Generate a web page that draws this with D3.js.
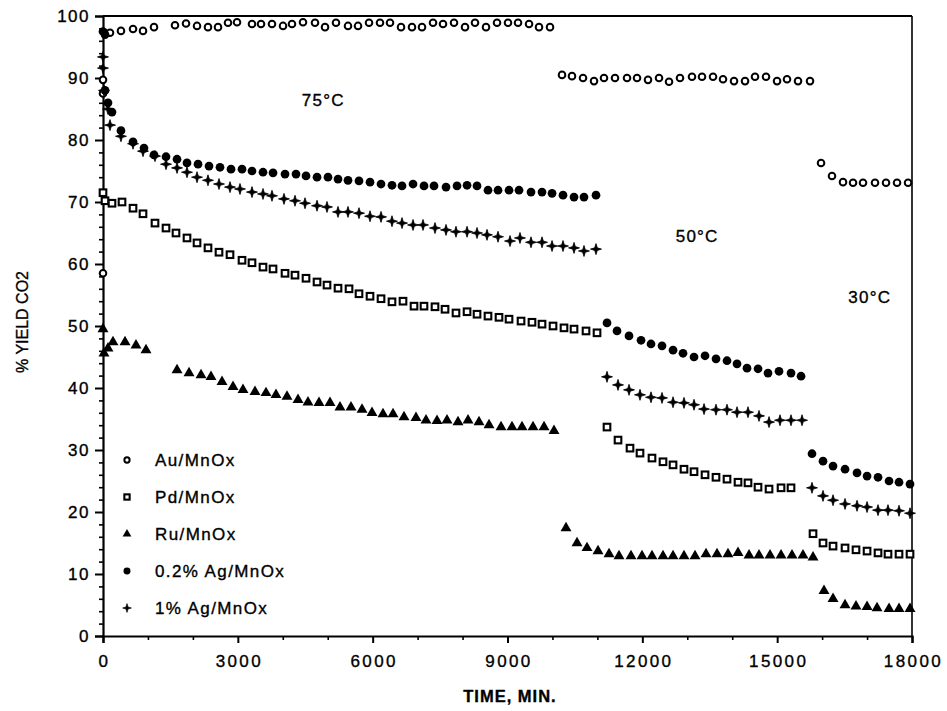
<!DOCTYPE html>
<html>
<head>
<meta charset="utf-8">
<script src="https://cdn.jsdelivr.net/npm/d3@7"></script>
<style>
  body { margin: 0; background: #fff; }
  text { font-family: "Liberation Sans", Arial, Helvetica, sans-serif; fill: #000; stroke: #000; stroke-width: 0.35; }
</style>
</head>
<body>
<svg id="chart" width="947" height="711"></svg>
<script>
// ---- data: [time (min), % yield CO2] ----
const xTickValues = [0, 3000, 6000, 9000, 12000, 15000, 18000];
const yTickValues = [0, 10, 20, 30, 40, 50, 60, 70, 80, 90, 100];

const auMnOx = [
  [0,58.5],[0,89.7],[0,87.5],[45,97.2],[156,97.3],[400,97.6],[668,97.9],[890,97.6],[1135,98.2],
  [1602,98.5],[1847,98.8],[2092,98.4],[2336,98.2],[2559,98.2],[2781,98.9],[2982,99.0],[3315,98.7],
  [3516,98.7],[3760,98.7],[4005,98.4],[4205,98.7],[4450,99.0],[4717,98.9],[4940,98.2],[5184,98.9],
  [5451,98.4],[5674,98.4],[5919,98.9],[6163,98.9],[6386,98.9],[6631,98.2],[6875,98.2],[7098,98.2],
  [7343,98.9],[7565,98.7],[7810,98.9],[8055,98.2],[8277,98.9],[8522,98.2],[8767,98.9],[9011,98.9],
  [9234,98.9],[9479,98.7],[9701,98.2],[9946,98.2],
  [10213,90.5],[10435,90.3],[10680,90.0],[10925,89.5],[11147,90.0],[11392,90.0],[11659,90.0],
  [11882,90.0],[12126,89.7],[12371,90.0],[12594,89.4],[12838,90.0],[13105,90.2],[13328,90.2],
  [13573,90.2],[13795,89.8],[14040,89.5],[14285,89.5],[14507,90.2],[14752,90.2],[14997,89.5],
  [15219,89.8],[15464,89.5],[15731,89.5],
  [15976,76.3],[16220,74.2],[16465,73.2],[16688,73.1],[16910,73.1],[17177,73.1],[17422,73.1],
  [17667,73.1],[17912,73.1]
];

const pdMnOx = [
  [0,71.5],[45,70.2],[200,69.8],[423,70.0],[668,69.0],[890,68.1],[1157,66.6],[1402,65.8],[1624,65.0],
  [1869,64.2],[2092,63.4],[2336,62.6],[2581,61.9],[2826,61.5],[3093,60.6],[3315,60.2],[3560,59.5],
  [3783,59.2],[4050,58.5],[4272,58.2],[4517,57.7],[4762,57.1],[4984,56.6],[5229,56.1],[5474,56.0],
  [5696,55.2],[5941,54.8],[6186,54.4],[6430,53.9],[6675,54.0],[6920,53.2],[7142,53.2],[7387,53.1],
  [7610,52.7],[7854,52.1],[8100,52.3],[8322,51.9],[8566,51.6],[8811,51.4],[9034,51.1],[9301,50.8],
  [9545,50.6],[9768,50.3],[10013,50.0],[10257,49.7],[10480,49.5],[10747,49.2],[10992,48.9],
  [11214,33.7],[11459,31.6],[11726,30.3],[11948,29.5],[12215,28.7],[12460,28.1],[12683,27.6],
  [12927,26.9],[13150,26.5],[13395,26.0],[13639,25.6],[13884,25.3],[14129,24.8],[14351,24.7],
  [14574,24.0],[14819,23.7],[15086,23.9],[15308,23.9],
  [15798,16.5],[16020,15.0],[16243,14.5],[16510,14.2],[16754,13.9],[17000,13.7],[17244,13.4],
  [17466,13.2],[17711,13.2],[17956,13.2]
];

const ruMnOx = [
  [0,49.5],[22,45.6],[111,46.4],[222,47.4],[490,47.4],[734,46.9],[957,46.1],
  [1647,42.9],[1914,42.4],[2181,42.1],[2403,41.8],[2648,41.0],[2893,40.2],[3115,39.7],[3382,39.4],
  [3627,39.2],[3849,38.9],[4094,38.6],[4339,38.1],[4561,37.7],[4806,37.6],[5051,37.6],[5273,36.9],
  [5518,36.9],[5763,36.5],[5985,36.0],[6230,35.8],[6453,35.8],[6697,35.3],[6964,35.2],[7187,34.8],
  [7432,34.7],[7654,34.8],[7899,34.5],[8122,34.8],[8366,34.5],[8589,34.0],[8856,33.7],[9100,33.7],
  [9323,33.7],[9568,33.7],[9813,33.7],[10035,33.1],
  [10302,17.4],[10547,15.0],[10769,14.2],[11014,13.7],[11259,13.2],[11481,12.9],[11748,12.9],
  [11993,12.9],[12215,12.9],[12460,12.9],[12683,12.9],[12927,12.9],[13172,12.9],[13417,13.2],
  [13662,13.2],[13906,13.2],[14129,13.4],[14374,13.0],[14596,13.0],[14841,13.0],[15086,13.0],
  [15330,13.0],[15575,13.0],[15798,12.7],
  [16042,7.3],[16243,6.0],[16510,5.0],[16754,4.8],[17000,4.7],[17222,4.5],[17489,4.4],[17711,4.4],
  [17956,4.4]
];

const ag02MnOx = [
  [0,97.5],[45,97.0],[45,88.0],[111,86.0],[200,84.5],[400,81.5],[668,79.7],[912,78.7],[1135,77.6],
  [1402,77.3],[1647,76.9],[1869,76.3],[2114,76.1],[2359,75.8],[2603,75.6],[2848,75.3],[3093,75.3],
  [3315,75.0],[3560,74.8],[3783,74.7],[4050,74.5],[4294,74.5],[4517,74.2],[4762,74.0],[5006,74.0],
  [5229,73.7],[5451,73.5],[5696,73.4],[5941,73.2],[6186,72.9],[6430,72.7],[6653,72.6],[6898,72.9],
  [7142,72.6],[7365,72.6],[7632,72.4],[7877,72.6],[8100,72.7],[8322,72.6],[8566,71.9],[8789,71.9],
  [9034,71.9],[9256,71.9],[9523,71.6],[9768,71.6],[9991,71.4],[10235,71.1],[10480,70.8],[10702,70.8],
  [10969,71.1],
  [11214,50.5],[11437,49.2],[11704,48.4],[11971,47.7],[12193,47.1],[12438,46.8],[12683,46.1],
  [12905,45.6],[13150,45.0],[13395,45.2],[13639,44.7],[13884,44.4],[14107,43.9],[14329,43.2],
  [14574,43.1],[14796,42.4],[15041,42.7],[15308,42.4],[15531,41.9],
  [15775,29.4],[16020,28.2],[16243,27.4],[16510,26.9],[16777,26.3],[17000,25.8],[17244,25.6],
  [17489,25.0],[17711,24.8],[17956,24.5]
];

const ag1MnOx = [
  [0,93.4],[0,91.6],[22,88.0],[111,85.0],[156,82.4],[400,80.6],[668,79.4],[890,78.2],[1157,77.4],
  [1402,76.1],[1647,75.5],[1869,74.8],[2092,74.0],[2336,73.5],[2581,72.9],[2826,72.4],[3048,72.1],
  [3315,71.6],[3560,71.3],[3760,71.0],[4027,70.5],[4272,70.2],[4495,69.8],[4762,69.4],[4984,69.2],
  [5229,68.4],[5451,68.4],[5696,68.2],[5941,67.7],[6186,67.6],[6430,66.9],[6653,66.6],[6898,66.3],
  [7120,66.3],[7387,65.8],[7632,65.5],[7854,65.2],[8100,65.2],[8322,65.0],[8544,64.7],[8789,64.4],
  [9056,63.7],[9278,64.2],[9523,63.5],[9768,63.5],[9991,62.9],[10235,62.9],[10480,62.6],[10702,62.1],
  [10969,62.4],
  [11214,41.8],[11459,40.5],[11704,39.7],[11948,38.9],[12193,38.5],[12438,38.4],[12683,37.7],
  [12927,37.6],[13150,37.3],[13373,36.6],[13639,36.5],[13884,36.5],[14107,36.1],[14351,36.1],
  [14596,35.5],[14819,34.5],[15063,34.8],[15308,34.8],[15553,34.8],
  [15775,23.9],[16020,22.6],[16243,21.9],[16510,21.3],[16777,21.0],[17000,20.8],[17244,20.3],
  [17466,20.3],[17711,20.2],[17956,19.8]
];

const seriesNames = ["Au/MnOx", "Pd/MnOx", "Ru/MnOx", "0.2% Ag/MnOx", "1% Ag/MnOx"];
const seriesData = [auMnOx, pdMnOx, ruMnOx, ag02MnOx, ag1MnOx];

// temperature annotations (text, time, yield)
const tempNotes = [["75°C", 4900, 85.5], ["50°C", 13220, 63.5], ["30°C", 17060, 53.7]];

// ---- drawing ----
const svg = d3.select("#chart");
const x = d3.scaleLinear().domain([0, 18000]).range([103, 912]);
const y = d3.scaleLinear().domain([0, 100]).range([636, 16]);

// marker shapes
const star = "M0,-5.5L1.3,-1.3L5.5,0L1.3,1.3L0,5.5L-1.3,1.3L-5.5,0L-1.3,-1.3Z";
function drawMarker(g, kind, scale) {
  const s = scale || 1;
  if (kind === 0) {
    g.append("circle").attr("r", 3.3 * s).attr("fill", "#fff").attr("stroke", "#000").attr("stroke-width", 2);
  } else if (kind === 1) {
    const h = 3.3 * s;
    g.append("rect").attr("x", -h).attr("y", -h).attr("width", 2 * h).attr("height", 2 * h)
      .attr("fill", "#fff").attr("stroke", "#000").attr("stroke-width", 2.1);
  } else if (kind === 2) {
    g.append("path").attr("d", d3.symbol(d3.symbolTriangle, 52 * s * s)()).attr("fill", "#000");
  } else if (kind === 3) {
    g.append("path").attr("d", d3.symbol(d3.symbolCircle, 60 * s * s)()).attr("fill", "#000");
  } else {
    g.append("path").attr("d", star).attr("transform", `scale(${s})`).attr("fill", "#000")
      .attr("stroke", "#000").attr("stroke-width", 0.8);
  }
}

// frame
const frame = svg.append("g").attr("stroke", "#000").attr("fill", "none");
frame.append("line").attr("x1", x(0)).attr("x2", x(18000)).attr("y1", y(100)).attr("y2", y(100)).attr("stroke-width", 2.2);
frame.append("line").attr("x1", x(18000)).attr("x2", x(18000)).attr("y1", y(100)).attr("y2", y(0)).attr("stroke-width", 1.6);

// x axis
const xAxis = d3.axisBottom(x).tickValues(xTickValues).tickSize(7).tickPadding(12).tickFormat(d3.format("d"));
const gx = svg.append("g").attr("transform", `translate(0,${y(0)})`).call(xAxis);
gx.selectAll("text").attr("font-size", 17).attr("letter-spacing", 2.4).attr("dx", 1);
gx.selectAll("line").attr("stroke-width", 2);
gx.select(".domain").attr("stroke-width", 2.2);
const xMinor = d3.axisBottom(x).tickValues(d3.range(1000, 18000, 1000).filter(v => v % 3000 !== 0))
  .tickSize(4).tickFormat("");
svg.append("g").attr("transform", `translate(0,${y(0)})`).call(xMinor)
  .call(g => g.select(".domain").remove()).selectAll("line").attr("stroke-width", 1.6);

// y axis
const yAxis = d3.axisLeft(y).tickValues(yTickValues).tickSize(8).tickPadding(5);
const gy = svg.append("g").attr("transform", `translate(${x(0)},0)`).call(yAxis);
gy.selectAll("text").attr("font-size", 17).attr("letter-spacing", 1.5);
gy.selectAll("line").attr("stroke-width", 2);
gy.select(".domain").attr("stroke-width", 2.2);
const yMinor = d3.axisLeft(y).tickValues(d3.range(2, 100, 2).filter(v => v % 10 !== 0)).tickSize(4).tickFormat("");
svg.append("g").attr("transform", `translate(${x(0)},0)`).call(yMinor)
  .call(g => g.select(".domain").remove()).selectAll("line").attr("stroke-width", 1.6);

svg.selectAll(".domain").attr("stroke", "#000");
svg.selectAll(".tick line").attr("stroke", "#000");
svg.selectAll(".tick text").attr("fill", "#000").attr("font-family", "Liberation Sans, Arial, sans-serif");

// axis titles
svg.append("text").attr("x", 510).attr("y", 702).attr("text-anchor", "middle")
  .attr("font-size", 16.5).attr("font-weight", "bold").attr("letter-spacing", 1).text("TIME, MIN.");
svg.append("text").attr("transform", "translate(28,322) rotate(-90)").attr("text-anchor", "middle")
  .attr("font-size", 16).attr("letter-spacing", 0).text("% YIELD CO2");

// data markers
seriesData.forEach((data, k) => {
  const g = svg.append("g").attr("class", "series-" + k);
  data.forEach(d => {
    const m = g.append("g").attr("transform", `translate(${x(d[0])},${y(d[1])})`);
    drawMarker(m, k, 1);
  });
});

// temperature annotations
svg.append("g").selectAll("text").data(tempNotes).join("text")
  .attr("x", d => x(d[1])).attr("y", d => y(d[2])).attr("text-anchor", "middle")
  .attr("font-size", 17).attr("letter-spacing", 1.2).text(d => d[0]);

// legend
const legend = svg.append("g");
seriesNames.forEach((name, k) => {
  const row = legend.append("g").attr("transform", `translate(127,${460 + k * 37})`);
  drawMarker(row.append("g"), k, 0.8);
  row.append("text").attr("x", 28).attr("y", 6).attr("font-size", 17).attr("letter-spacing", 1.4).text(name);
});
</script>
</body>
</html>
